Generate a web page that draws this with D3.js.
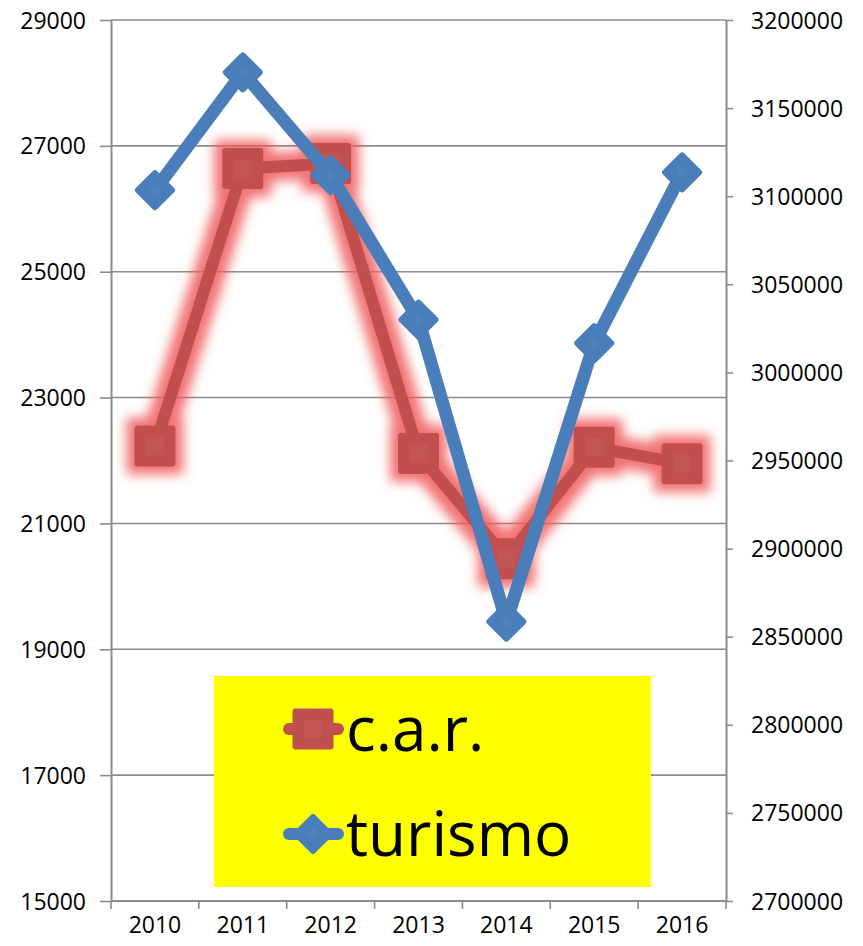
<!DOCTYPE html>
<html>
<head>
<meta charset="utf-8">
<script src="https://cdn.jsdelivr.net/npm/d3@7"></script>
<style>
  body { margin: 0; background: #fff; }
  svg { display: block; }
  text { font-family: "Open Sans", "Noto Sans", sans-serif; }
</style>
</head>
<body>
<svg id="chart" width="863" height="946"></svg>
<script>
// Categories and series
const years = ["2010", "2011", "2012", "2013", "2014", "2015", "2016"];
const carValues = [22230, 26640, 26720, 22110, 20440, 22210, 21950];          // left axis
const turismoValues = [3103400, 3170300, 3111900, 3029900, 2858500, 3016600, 3113500]; // right axis

// Axis ticks
const leftTicks = [15000, 17000, 19000, 21000, 23000, 25000, 27000, 29000];
const rightTicks = [2700000, 2750000, 2800000, 2850000, 2900000, 2950000, 3000000, 3050000, 3100000, 3150000, 3200000];

// Legend
const seriesNames = ["c.a.r.", "turismo"];

const W = 863, H = 946;
const margin = { left: 111, right: 863 - 726, top: 20, bottom: 946 - 901 };
const x0 = margin.left, x1 = W - margin.right, y0 = H - margin.bottom, y1 = margin.top;

const red = "#C0504D", redInner = "#C35754";
const blue = "#4A7EBB", blueInner = "#5082BF";
const grey = "#8C8C8C";

const svg = d3.select("#chart");

// glow for the c.a.r. series
const defs = svg.append("defs");
const glow = defs.append("filter").attr("id", "glow")
  .attr("filterUnits", "userSpaceOnUse")
  .attr("x", 0).attr("y", 0).attr("width", W).attr("height", H);
glow.append("feMorphology").attr("in", "SourceAlpha").attr("operator", "dilate").attr("radius", 8).attr("result", "d");
glow.append("feGaussianBlur").attr("in", "d").attr("stdDeviation", 6).attr("result", "b");
glow.append("feFlood").attr("flood-color", "#F05A5A").attr("flood-opacity", 0.85).attr("result", "f");
glow.append("feComposite").attr("in", "f").attr("in2", "b").attr("operator", "in").attr("result", "g");
const merge = glow.append("feMerge");
merge.append("feMergeNode").attr("in", "g");
merge.append("feMergeNode").attr("in", "SourceGraphic");

// Scales
const x = d3.scaleBand().domain(years).range([x0, x1]).padding(0);
const yL = d3.scaleLinear().domain([15000, 29000]).range([y0, y1]);
const yR = d3.scaleLinear().domain([2700000, 3200000]).range([y0, y1]);
const cx = d => x(d) + x.bandwidth() / 2;

// Gridlines
svg.append("g").selectAll("line").data(leftTicks).join("line")
  .attr("x1", x0).attr("x2", x1)
  .attr("y1", d => yL(d)).attr("y2", d => yL(d))
  .attr("stroke", grey).attr("stroke-width", 1.6);

// Left axis
const fmt = d3.format("d");
const gL = svg.append("g").attr("transform", `translate(${x0},0)`)
  .call(d3.axisLeft(yL).tickValues(leftTicks).tickFormat(fmt).tickSize(11).tickPadding(14).tickSizeOuter(0));
// Right axis
const gR = svg.append("g").attr("transform", `translate(${x1},0)`)
  .call(d3.axisRight(yR).tickValues(rightTicks).tickFormat(fmt).tickSize(7).tickPadding(18).tickSizeOuter(0));
// Bottom axis: labels at category centres, ticks at category boundaries
const gB = svg.append("g").attr("transform", `translate(0,${y0})`)
  .call(d3.axisBottom(x).tickSize(0).tickPadding(32).tickSizeOuter(0));
gB.append("g").selectAll("line").data(years.concat(["end"])).join("line")
  .attr("x1", (d, i) => i < years.length ? x(d) : x1)
  .attr("x2", (d, i) => i < years.length ? x(d) : x1)
  .attr("y1", 0).attr("y2", 8)
  .attr("stroke", grey).attr("stroke-width", 1.6);

[gL, gR, gB].forEach(g => {
  g.selectAll(".domain").attr("stroke", grey).attr("stroke-width", 2);
  g.selectAll(".tick line").attr("stroke", grey).attr("stroke-width", 1.6);
  g.selectAll("text").attr("fill", "#000").attr("font-size", 23)
    .attr("font-family", "'Open Sans', 'Noto Sans', sans-serif");
});
gL.selectAll(".tick text").attr("dy", "0.35em");
gR.selectAll(".tick text").attr("dy", "0.35em");
gB.selectAll(".tick text").attr("dy", 0).attr("dominant-baseline", "auto");
gB.select(".domain").attr("d", `M${x0},0H${x1}`);

// Marker shapes
function square(sel, color, inner) {
  sel.append("rect").attr("x", -17.5).attr("y", -17.5).attr("width", 35).attr("height", 35)
    .attr("fill", color).attr("stroke", color).attr("stroke-width", 6).attr("stroke-linejoin", "round");
  sel.append("rect").attr("x", -9).attr("y", -9).attr("width", 18).attr("height", 18).attr("fill", inner);
}
function diamond(sel, color, inner) {
  sel.append("path").attr("d", "M0,-17L17,0L0,17L-17,0Z")
    .attr("fill", color).attr("stroke", color).attr("stroke-width", 6).attr("stroke-linejoin", "round");
  sel.append("path").attr("d", "M0,-6L6,0L0,6L-6,0Z").attr("fill", inner);
}

// c.a.r. series (left axis) with glow
const carG = svg.append("g").attr("filter", "url(#glow)");
const carLine = d3.line().x((d, i) => cx(years[i])).y(d => yL(d));
carG.append("path").datum(carValues).attr("d", carLine)
  .attr("fill", "none").attr("stroke", red).attr("stroke-width", 12)
  .attr("stroke-linejoin", "round").attr("stroke-linecap", "round");
carG.selectAll("g.m").data(carValues).join("g").attr("class", "m")
  .attr("transform", (d, i) => `translate(${cx(years[i])},${yL(d)})`)
  .each(function () { square(d3.select(this), red, redInner); });

// turismo series (right axis)
const turG = svg.append("g");
const turLine = d3.line().x((d, i) => cx(years[i])).y(d => yR(d));
turG.append("path").datum(turismoValues).attr("d", turLine)
  .attr("fill", "none").attr("stroke", blue).attr("stroke-width", 13)
  .attr("stroke-linejoin", "round").attr("stroke-linecap", "round");
turG.selectAll("g.m").data(turismoValues).join("g").attr("class", "m")
  .attr("transform", (d, i) => `translate(${cx(years[i])},${yR(d)})`)
  .each(function () { diamond(d3.select(this), blue, blueInner); });

// Legend
const legend = svg.append("g");
legend.append("rect").attr("x", 214).attr("y", 676).attr("width", 437).attr("height", 211).attr("fill", "#FFFF00");
const legendItems = [
  { name: seriesNames[0], color: red, inner: redInner, shape: square, y: 729, baseline: 751 },
  { name: seriesNames[1], color: blue, inner: blueInner, shape: diamond, y: 834, baseline: 856 }
];
legendItems.forEach(it => {
  const g = legend.append("g");
  g.append("line").attr("x1", 289).attr("x2", 338).attr("y1", it.y).attr("y2", it.y)
    .attr("stroke", it.color).attr("stroke-width", 12).attr("stroke-linecap", "round");
  const m = g.append("g").attr("transform", `translate(313,${it.y})`);
  it.shape(m, it.color, it.inner);
  g.append("text").attr("x", 346).attr("y", it.baseline).attr("font-size", 62)
    .attr("fill", "#000").text(it.name);
});
</script>
</body>
</html>
